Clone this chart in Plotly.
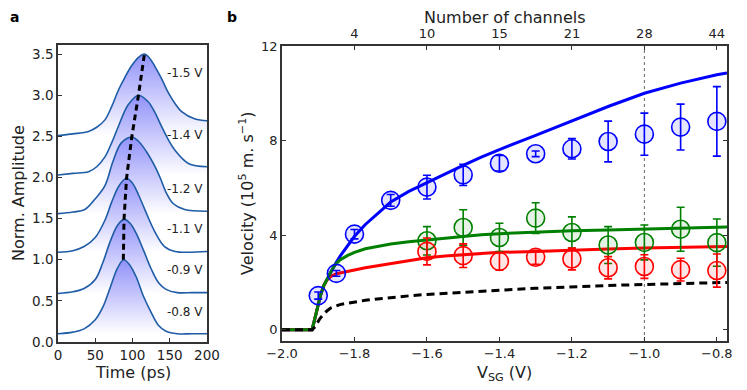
import plotly.graph_objects as go

# ---------------- Panel a data ----------------
pulse_labels = ["-0.8 V", "-0.9 V", "-1.1 V", "-1.2 V", "-1.4 V", "-1.5 V"]
pulse_t = [
    [0, 20, 35, 50, 60, 70, 80, 88, 96, 105, 115, 125, 135, 145, 160, 180, 200],
    [0, 20, 35, 50, 60, 70, 80, 89, 97, 105, 115, 125, 135, 145, 160, 180, 200],
    [0, 20, 35, 50, 63, 72, 82, 92, 100, 108, 117, 130, 143, 157, 175, 200],
    [0, 20, 36, 50, 63, 74, 85, 99, 108, 119, 128, 137, 145, 155, 170, 200],
    [0, 20, 41, 52, 63, 72, 81, 94, 108, 121, 130, 139, 148, 157, 175, 200],
    [0, 20, 41, 52, 63, 72, 81, 90, 99, 108, 116, 123, 130, 139, 148, 157, 166, 184, 200],
]
pulse_amp = [
    [0.10, 0.12, 0.16, 0.27, 0.42, 0.66, 0.90, 1.00, 0.94, 0.79, 0.55, 0.36, 0.20, 0.13, 0.10, 0.10, 0.10],
    [0.59, 0.61, 0.65, 0.76, 0.96, 1.22, 1.42, 1.49, 1.44, 1.32, 1.11, 0.89, 0.72, 0.64, 0.60, 0.60, 0.60],
    [1.09, 1.11, 1.16, 1.27, 1.48, 1.70, 1.90, 1.99, 1.93, 1.79, 1.60, 1.34, 1.16, 1.10, 1.09, 1.10],
    [1.56, 1.58, 1.61, 1.74, 1.90, 2.20, 2.42, 2.49, 2.44, 2.31, 2.17, 2.00, 1.82, 1.68, 1.61, 1.59],
    [2.03, 2.05, 2.07, 2.13, 2.25, 2.42, 2.62, 2.88, 3.00, 2.92, 2.79, 2.62, 2.46, 2.33, 2.17, 2.13],
    [2.51, 2.53, 2.56, 2.61, 2.70, 2.86, 3.06, 3.22, 3.36, 3.46, 3.50, 3.45, 3.35, 3.20, 3.03, 2.90, 2.80, 2.71, 2.69],
]
pulse_base = [0.10, 0.59, 1.09, 1.56, 2.03, 2.51]
label_y = [0.36, 0.87, 1.37, 1.86, 2.52, 3.27]
label_t = 171
peak_t = [87.7, 88.6, 92, 99, 108, 116]
peak_amp = [1.0, 1.49, 1.99, 2.49, 3.0, 3.5]

# ---------------- Panel b data ----------------
vsg_pts = [-1.9, -1.85, -1.8, -1.7, -1.6, -1.5, -1.4, -1.3, -1.2, -1.1, -1.0, -0.9, -0.8]
blue_v = [1.44, 2.38, 4.04, 5.47, 6.03, 6.55, 7.04, 7.44, 7.65, 7.96, 8.27, 8.57, 8.81]
blue_err = [0.15, 0.12, 0.2, 0.25, 0.5, 0.45, 0.33, 0.12, 0.43, 0.86, 0.89, 0.97, 1.47]

vsg_gr = [-1.6, -1.5, -1.4, -1.3, -1.2, -1.1, -1.0, -0.9, -0.8]
green_v = [3.76, 4.32, 3.9, 4.72, 4.11, 3.58, 3.69, 4.25, 3.68]
green_err = [0.6, 0.75, 0.6, 0.65, 0.66, 0.78, 0.74, 0.93, 1.0]
red_v = [3.31, 3.13, 2.89, 3.06, 2.99, 2.62, 2.67, 2.54, 2.5]
red_err = [0.57, 0.5, 0.38, 0.3, 0.46, 0.47, 0.5, 0.48, 0.7]

vsg_line = [-2.0, -1.917, -1.91, -1.9, -1.894, -1.885, -1.877, -1.865, -1.853, -1.84, -1.82, -1.8,
            -1.77, -1.73, -1.7, -1.65, -1.6, -1.55, -1.5, -1.45, -1.4, -1.3, -1.2, -1.1, -1.0,
            -0.9, -0.8, -0.772]
blue_line = [0, 0, 0.42, 1.05, 1.44, 1.85, 2.1, 2.45, 2.78, 3.1, 3.55, 3.95,
             4.45, 5.0, 5.4, 5.85, 6.22, 6.6, 6.95, 7.3, 7.62, 8.22, 8.84, 9.44, 10.0,
             10.43, 10.78, 10.86]
green_line = [0, 0, 0.42, 1.05, 1.44, 1.85, 2.1, 2.45, 2.75, 2.95, 3.13, 3.27,
              3.42, 3.55, 3.62, 3.72, 3.8, 3.88, 3.95, 4.01, 4.06, 4.13, 4.18, 4.22, 4.26,
              4.3, 4.33, 4.34]
red_line = [0, 0, 0.42, 1.05, 1.44, 1.85, 2.08, 2.25, 2.35, 2.4, 2.45, 2.52,
            2.62, 2.72, 2.8, 2.93, 3.04, 3.12, 3.18, 3.23, 3.27, 3.31, 3.37, 3.41, 3.45,
            3.48, 3.51, 3.52]
black_line = [0, 0, 0.1, 0.35, 0.5, 0.64, 0.78, 0.92, 1.0, 1.06, 1.12, 1.17,
              1.24, 1.31, 1.36, 1.43, 1.49, 1.54, 1.58, 1.63, 1.67, 1.75, 1.82, 1.87, 1.91,
              1.94, 1.98, 2.0]

top_tickvals = [-1.8, -1.6, -1.4, -1.2, -1.0, -0.8]
top_ticktext = ["4", "10", "15", "21", "28", "44"]

FONT = "DejaVu Sans"
AX = "#333333"
# the page body adds an 8px margin; lay out in screen pixels relative to it
OX, OY = 8, 8
W, H = 739, 382


def px(X):
    return (X - OX) / W


def py(Y):
    return 1 - (Y - OY) / H


fig = go.Figure()

# Panel a fills (top curve first so lower fills restart the gradient)
for i in reversed(range(len(pulse_t))):
    fig.add_trace(go.Scatter(
        x=pulse_t[i], y=pulse_amp[i], mode="lines", line=dict(width=0, shape="spline"),
        fill="tozeroy",
        fillgradient=dict(type="vertical",
                          colorscale=[[0, "rgb(255,255,255)"], [1, "rgb(145,145,250)"]],
                          start=pulse_base[i], stop=peak_amp[i]),
        xaxis="x", yaxis="y", showlegend=False, hoverinfo="skip"))
for i in range(len(pulse_t)):
    fig.add_trace(go.Scatter(
        x=pulse_t[i], y=pulse_amp[i], mode="lines",
        line=dict(color="#1f5ca6", width=1.6, shape="spline"),
        xaxis="x", yaxis="y", showlegend=False))
fig.add_trace(go.Scatter(x=peak_t, y=peak_amp, mode="lines",
                         line=dict(color="black", width=3, dash="6px,4px"),
                         xaxis="x", yaxis="y", showlegend=False))

# Panel b lines
for ys, col in [(blue_line, "#0000ff"), (red_line, "#ff0000"), (green_line, "#008000")]:
    fig.add_trace(go.Scatter(x=vsg_line, y=ys, mode="lines",
                             line=dict(color=col, width=3),
                             xaxis="x2", yaxis="y2", showlegend=False))
fig.add_trace(go.Scatter(x=vsg_line, y=black_line, mode="lines",
                         line=dict(color="black", width=3, dash="8px,5px"),
                         xaxis="x2", yaxis="y2", showlegend=False))

# Panel b markers with error bars
for xs, ys, es, col, fillc in [
    (vsg_pts, blue_v, blue_err, "#0000ff", "rgba(0,0,255,0.1)"),
    (vsg_gr, green_v, green_err, "#008000", "rgba(0,128,0,0.1)"),
    (vsg_gr, red_v, red_err, "#ff0000", "rgba(255,0,0,0.1)"),
]:
    fig.add_trace(go.Scatter(
        x=xs, y=ys, mode="markers",
        marker=dict(size=18, color=fillc, line=dict(color=col, width=1.6)),
        error_y=dict(type="data", array=es, visible=True, color=col, thickness=1.6, width=4),
        xaxis="x2", yaxis="y2", showlegend=False))

# dummy trace for top axis
fig.add_trace(go.Scatter(x=[-1.5], y=[5], mode="markers", marker=dict(opacity=0),
                         xaxis="x3", yaxis="y2", showlegend=False, hoverinfo="skip"))

tickfont = dict(family=FONT, size=13.5, color="#222")
tickfont_b = dict(family=FONT, size=13, color="#222")
common = dict(showline=True, linecolor=AX, linewidth=1.5, ticks="inside", ticklen=4,
              tickcolor=AX, tickwidth=1, showgrid=False, zeroline=False, automargin=False)

fig.update_layout(
    width=W, height=H, margin=dict(l=0, r=0, t=0, b=0),
    paper_bgcolor="white", plot_bgcolor="white", showlegend=False,
    xaxis=dict(domain=[px(58), px(207)], range=[0, 200], tickvals=[0, 50, 100, 150, 200],
               anchor="y", mirror=True, tickfont=tickfont, **common),
    yaxis=dict(domain=[py(342), py(45)], range=[0, 3.61],
               tickvals=[0, 0.5, 1, 1.5, 2, 2.5, 3, 3.5], ticktext=["0.0", "0.5", "1.0", "1.5", "2.0", "2.5", "3.0", "3.5"],
               anchor="x", mirror=True, tickfont=tickfont, **common),
    xaxis2=dict(domain=[px(282), px(727)], range=[-2.0, -0.772],
                tickvals=[-2.0, -1.8, -1.6, -1.4, -1.2, -1.0, -0.8], tickformat=".1f",
                anchor="y2", mirror=True, tickfont=tickfont_b, **common),
    yaxis2=dict(domain=[py(341), py(46)], range=[-0.48, 12],
                tickvals=[0, 4, 8, 12], anchor="x2", mirror="ticks", tickfont=tickfont_b, **common),
    xaxis3=dict(overlaying="x2", side="top", anchor="y2", range=[-2.0, -0.772],
                tickvals=top_tickvals, ticktext=top_ticktext, showline=False,
                ticks="inside", ticklen=4, tickcolor=AX, showgrid=False, zeroline=False,
                automargin=False, tickfont=tickfont_b, ticklabelstandoff=4),
)

fig.add_shape(type="line", xref="x2", yref="y2 domain", x0=-1.0, x1=-1.0, y0=0, y1=1,
              line=dict(color="#666", width=1, dash="dot"), layer="below")


def note(X, Y, text, size=16, angle=0, color="#222"):
    return dict(x=px(X), y=py(Y), xref="paper", yref="paper", text=text, showarrow=False,
                textangle=angle, xanchor="center", yanchor="middle",
                font=dict(family=FONT, size=size, color=color))


ann = []
for i, lab in enumerate(pulse_labels):
    ann.append(dict(x=label_t, y=label_y[i], xref="x", yref="y", text=lab, showarrow=False,
                    xanchor="center", yanchor="middle",
                    font=dict(family=FONT, size=12, color="#222")))
ann += [
    note(132.5, 372, "Time (ps)"),
    note(19, 193, "Norm. Amplitude", angle=-90),
    note(504.5, 373, "V<sub>SG</sub> (V)"),
    note(247, 193, "Velocity (10<sup>5</sup> m. s<sup>−1</sup>)", angle=-90),
    note(505, 18, "Number of channels"),
    note(14, 17, "<b>a</b>", size=14, color="black"),
    note(232, 17, "<b>b</b>", size=14, color="black"),
]
fig.update_layout(annotations=ann)

fig.write_html("out.html")
